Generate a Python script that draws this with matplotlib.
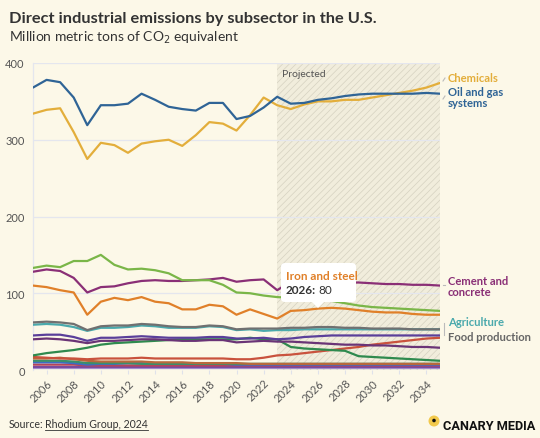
import matplotlib
matplotlib.use("Agg")
import matplotlib.pyplot as plt
from matplotlib.patches import FancyBboxPatch, Polygon, Ellipse
import numpy as np

years = list(range(2005, 2036))

oil_gas = [368, 378, 375, 355, 319, 345, 345, 347, 360, 352, 343, 340, 338, 348, 348, 327, 331, 342, 356,
           347, 348, 352, 354, 357, 359, 360, 360, 360, 360, 361, 360]
chemicals = [334, 339, 341, 310, 275, 296, 293, 283, 295, 298, 300, 292, 306, 323, 321, 312, 332, 355, 345,
             340, 346, 350, 350, 352, 352, 355, 358, 361, 364, 368, 374]
other_industry = [133, 136, 134, 142, 142, 150, 137, 131, 132, 130, 126, 117, 117, 117, 111, 101, 100, 97, 95,
                  94, 93, 92, 90, 87, 84, 82, 81, 80, 79, 78, 77]
cement = [128, 131, 129, 120, 101, 108, 109, 113, 116, 117, 116, 116, 117, 118, 120, 115, 117, 118, 104,
          115, 115, 115, 115, 114, 114, 113, 112, 112, 111, 111, 110]
iron_steel = [110, 108, 104, 101, 72, 89, 94, 91, 95, 89, 87, 79, 79, 85, 83, 72, 79, 73, 67,
              77, 78, 80, 81, 80, 78, 76, 75, 75, 73, 72, 72]
food = [62, 63, 62, 60, 52, 57, 58, 58, 60, 59, 57, 56, 56, 58, 57, 53, 54, 54, 54,
        55, 55, 56, 56, 55, 55, 54, 54, 54, 53, 53, 53]
agriculture = [59, 60, 59, 56, 51, 55, 55, 56, 58, 57, 55, 55, 55, 57, 56, 52, 53, 51, 52,
               52, 53, 53, 53, 53, 53, 53, 53, 53, 53, 53, 53]
violet_series = [45, 46, 46, 43, 38, 42, 42, 43, 44, 43, 42, 42, 42, 43, 43, 41, 41, 42, 40,
                 41, 43, 44, 45, 45, 45, 45, 45, 45, 45, 45, 45]
plum_series = [40, 41, 40, 38, 35, 38, 38, 39, 40, 40, 39, 38, 38, 39, 39, 36, 37, 38, 37,
               37, 36, 35, 34, 33, 33, 32, 32, 31, 30, 30, 29]
green_series = [19, 22, 24, 26, 29, 33, 35, 36, 37, 38, 39, 40, 40, 40, 40, 40, 42, 40, 40,
                30, 28, 27, 26, 25, 18, 17, 16, 15, 14, 13, 12]
red_series = [17, 16, 15, 15, 14, 15, 15, 15, 16, 15, 15, 15, 15, 15, 15, 14, 14, 16, 19,
              20, 22, 24, 26, 28, 30, 33, 35, 37, 39, 41, 42]
brown_series = [15, 15, 16, 14, 12, 11, 11, 11, 11, 10, 10, 10, 9, 9, 9, 9, 8, 8, 8,
                8, 8, 8, 8, 8, 8, 8, 8, 8, 8, 8, 8]
teal_small = [12, 12, 12, 11, 9, 9, 9, 9, 8, 8, 8, 8, 8, 8, 8, 8, 8, 8, 8,
              8, 8, 8, 8, 8, 8, 8, 8, 8, 8, 8, 8]
blue_small = [10, 10, 10, 9, 7, 8, 8, 9, 9, 8, 8, 8, 8, 8, 8, 7, 7, 7, 7,
              7, 7, 7, 7, 7, 7, 7, 7, 7, 7, 7, 7]
crimson_small = [7, 7, 7, 7, 6, 6, 6, 6, 6, 6, 6, 6, 6, 6, 6, 6, 6, 6, 6,
                 6, 6, 6, 6, 6, 6, 6, 6, 6, 6, 6, 6]
purple_small = [4, 4, 4, 4, 4, 4, 4, 4, 4, 4, 4, 4, 4, 4, 4, 4, 4, 4, 4,
                4, 4, 4, 4, 4, 4, 4, 4, 4, 4, 4, 4]
lilac_small = [2, 2, 2, 2, 2, 2, 2, 2, 2, 2, 2, 2, 2, 2, 2, 2, 2, 2, 2,
               2, 2, 2, 2, 2, 2, 2, 2, 2, 2, 2, 2]

projected_start = 2023
y_ticks = [0, 100, 200, 300, 400]
x_ticks = list(range(2006, 2035, 2))

BG = "#fcf8e8"
FONT = ["Lato", "DejaVu Sans"]
plt.rcParams["font.family"] = FONT
plt.rcParams["hatch.linewidth"] = 0.5
plt.rcParams["hatch.color"] = "#d6d1c1"

W, H = 540, 439
fig = plt.figure(figsize=(W / 100, H / 100), dpi=100, facecolor=BG)
ax = fig.add_axes([33 / W, 1 - 371 / H, (440 - 33) / W, (371 - 64) / H])
ax.set_facecolor(BG)

# projected region
ax.axvspan(projected_start, 2035, facecolor="#f1eddc", edgecolor="#d6d1c1", hatch="/////",
           linewidth=0, zorder=0)
ax.text(projected_start + 0.35, 392, "Projected", fontsize=7.5, color="#555555", va="top", ha="left", zorder=1)

series = [
    (lilac_small, "#a693d1"),
    (purple_small, "#7a4a9e"),
    (crimson_small, "#b5445a"),
    (blue_small, "#3c6cc4"),
    (teal_small, "#3b8f6a"),
    (brown_series, "#b8693c"),
    (red_series, "#c9523d"),
    (green_series, "#2f8a4e"),
    (plum_series, "#6a3476"),
    (violet_series, "#5a3f9a"),
    (agriculture, "#4aa9ac"),
    (food, "#707070"),
    (iron_steel, "#e08029"),
    (cement, "#8a2f76"),
    (other_industry, "#7ab648"),
    (chemicals, "#e3ae3b"),
    (oil_gas, "#2f6496"),
]
for vals, col in series:
    ax.plot(years, vals, color=col, linewidth=1.6, solid_capstyle="round", solid_joinstyle="round", zorder=3)

ax.set_xlim(2005, 2035)
ax.set_ylim(0, 400)
ax.set_yticks(y_ticks)
ax.set_xticks(x_ticks)
ax.set_xticks(years, minor=True)
ax.tick_params(axis="y", length=0, labelsize=8, labelcolor="#555555", pad=6)
ax.tick_params(axis="x", which="both", length=3, color="#dfe2ea", labelsize=8, labelcolor="#555555", pad=2)
ax.tick_params(axis="x", which="minor", length=0)
for lbl in ax.get_xticklabels():
    lbl.set_rotation(45)
    lbl.set_ha("right")
    lbl.set_rotation_mode("anchor")
ax.grid(axis="y", color="#e4e6ee", linewidth=0.9, zorder=1)
for s in ["top", "right", "bottom"]:
    ax.spines[s].set_visible(False)
ax.spines["left"].set_color("#e4e6ee")
ax.spines["left"].set_linewidth(0.9)

# Titles
fig.text(9 / W, 1 - 19 / H, "Direct industrial emissions by subsector in the U.S.", fontsize=11.8,
         fontweight="bold", color="#333333", va="center", ha="left")
fig.text(9 / W, 1 - 38 / H, "Million metric tons of CO$_2$ equivalent", fontsize=10, color="#333333",
         va="center", ha="left")

# Right labels
def rlabel(y_px, text, color):
    fig.text(448 / W, 1 - y_px / H, text, fontsize=8.1, fontweight="bold", color=color, va="center",
             ha="left", linespacing=0.95)

rlabel(78, "Chemicals", "#e3ae3b")
rlabel(98, "Oil and gas\nsystems", "#2f6496")
rlabel(287, "Cement and\nconcrete", "#8a2f76")
rlabel(323, "Agriculture", "#4aa9ac")
rlabel(338, "Food production", "#666666")

# small leader ticks
for (y0, y1) in [(79, 82), (97, 100), (286, 286)]:
    fig.add_artist(plt.Line2D([443 / W, 445 / W], [1 - y1 / H, 1 - y0 / H], color="#bbbbbb", lw=0.8))
fig.add_artist(plt.Line2D([444 / W, 444 / W], [1 - 324 / H, 1 - 336 / H], color="#bbbbbb", lw=0.8))

# Tooltip
tx0, ty0, tx1, ty1 = 281, 264, 356, 303
box = FancyBboxPatch((tx0 / W, 1 - ty1 / H), (tx1 - tx0) / W, (ty1 - ty0) / H,
                     boxstyle="round,pad=0,rounding_size=0.008", transform=fig.transFigure,
                     facecolor="white", edgecolor="none", zorder=10)
fig.add_artist(box)
px = 318
tri = Polygon([[(px - 6) / W, 1 - ty1 / H], [(px + 6) / W, 1 - ty1 / H], [px / W, 1 - (ty1 + 6) / H]],
              closed=True, transform=fig.transFigure, facecolor="white", edgecolor="none", zorder=10)
fig.add_artist(tri)
fig.text(286 / W, 1 - 276 / H, "Iron and steel", fontsize=8.5, fontweight="bold", color="#e08029",
         va="center", ha="left", zorder=11)
fig.text(286 / W, 1 - 291 / H, "2026:", fontsize=8.5, fontweight="bold", color="#333333",
         va="center", ha="left", zorder=11)
fig.text(318 / W, 1 - 291 / H, "80", fontsize=8.5, color="#333333", va="center", ha="left", zorder=11)

# Source
fig.text(9 / W, 1 - 425 / H, "Source:", fontsize=7.6, color="#333333", va="center", ha="left")
fig.text(45 / W, 1 - 425 / H, "Rhodium Group, 2024", fontsize=7.6, color="#333333", va="center", ha="left")
fig.add_artist(plt.Line2D([45 / W, 148 / W], [1 - 431 / H, 1 - 431 / H], color="#333333", lw=0.6))

# Logo
fig.add_artist(Ellipse((434 / W, 1 - 422 / H), 11 / W, 11 / H, transform=fig.transFigure,
                       facecolor="#f2c94c", edgecolor="none"))
fig.add_artist(Ellipse((434 / W, 1 - 421.5 / H), 3.6 / W, 3.6 / H, transform=fig.transFigure,
                       facecolor="#111111", edgecolor="none"))
fig.text(443 / W, 1 - 427 / H, "CANARY MEDIA", fontsize=9.2, fontweight="bold", color="#111111",
         va="center", ha="left", family=["Roboto", "DejaVu Sans"])

fig.savefig("out.png", dpi=100, facecolor=BG)
